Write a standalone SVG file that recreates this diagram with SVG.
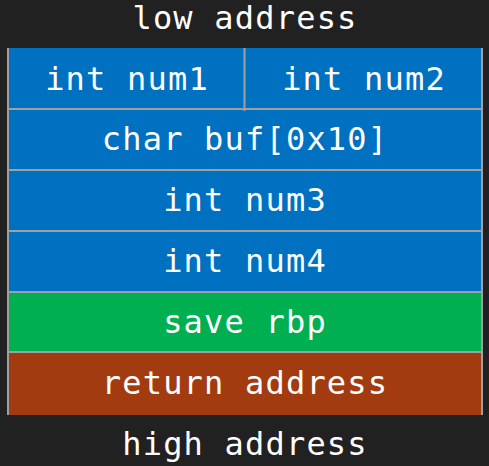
<svg xmlns="http://www.w3.org/2000/svg" width="489" height="466" viewBox="0 0 489 466">
<style>
  .t { font-family: "DejaVu Sans Mono", "Liberation Mono", monospace; font-size: 32px; fill: #ffffff; text-anchor: middle; letter-spacing: 1.2px; }
  .blue { fill: #0070C0; }
  .green { fill: #00B050; }
  .brown { fill: #A23C10; }
  .line { stroke: #A0A0A0; stroke-width: 2; fill: none; }
</style>
<rect x="0" y="0" width="489" height="466" fill="#212121"/>
<g id="low-label"><text class="t" x="245" y="29">low address</text></g>
<g id="num1"><rect class="blue" x="8" y="48" width="237" height="61"/><text class="t" x="127" y="90">int num1</text></g>
<g id="num2"><rect class="blue" x="245" y="48" width="237" height="61"/><text class="t" x="364" y="90">int num2</text></g>
<g id="buf"><rect class="blue" x="8" y="109" width="474" height="61"/><text class="t" x="245" y="150">char buf[0x10]</text></g>
<g id="num3"><rect class="blue" x="8" y="170" width="474" height="61"/><text class="t" x="245" y="211">int num3</text></g>
<g id="num4"><rect class="blue" x="8" y="231" width="474" height="61"/><text class="t" x="245" y="272">int num4</text></g>
<g id="rbp"><rect class="green" x="8" y="292" width="474" height="60"/><text class="t" x="245" y="333">save rbp</text></g>
<g id="ret"><rect class="brown" x="8" y="352" width="474" height="63"/><text class="t" x="245" y="394">return address</text></g>
<g id="high-label"><text class="t" x="245" y="455">high address</text></g>
<g id="connectors">
  <path class="line" d="M8 48V415M482 48V415M244.5 48V111M8 109H482M8 170H482M8 231H482M8 292H482M8 352H482"/>
</g>
</svg>
